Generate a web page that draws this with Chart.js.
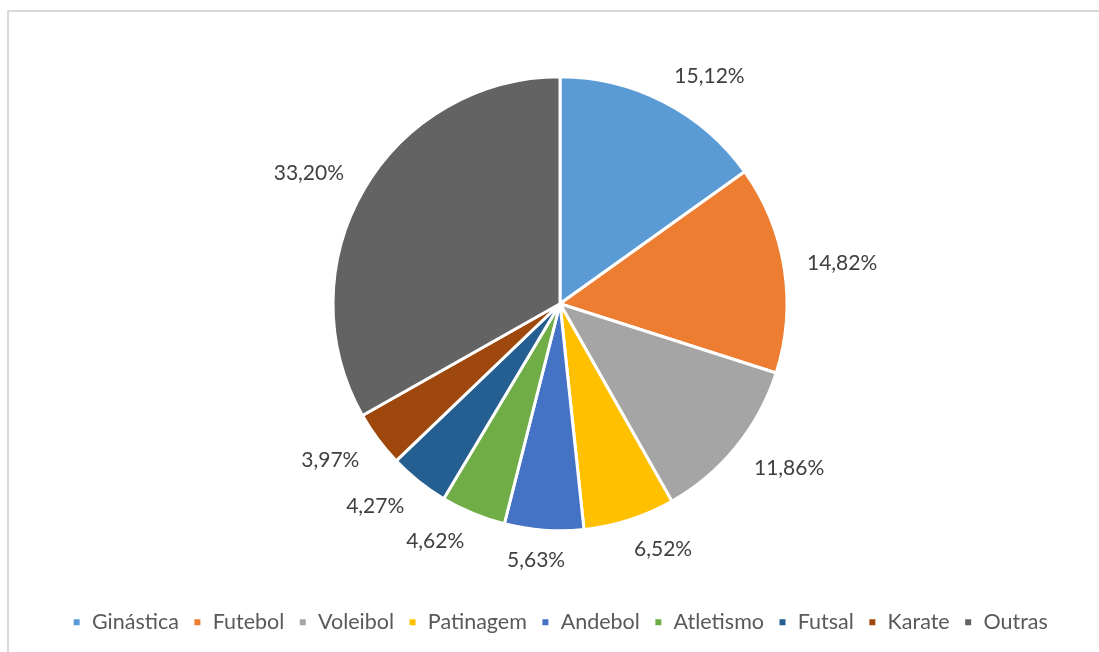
<!DOCTYPE html>
<html>
<head>
<meta charset="utf-8">
<script src="https://cdn.jsdelivr.net/npm/chart.js@4/dist/chart.umd.min.js"></script>
<style>
  html, body { margin:0; padding:0; background:#fff; }
  #wrap { position:relative; width:1099px; height:652px; }
  #frameTop { position:absolute; left:7px; top:10px; width:1092px; height:2px; background:#d9d9d9; }
  #frameLeft { position:absolute; left:7px; top:10px; width:2px; height:642px; background:#d9d9d9; }
  canvas { position:absolute; left:0; top:0; }
</style>
</head>
<body>
<div id="wrap">
  <canvas id="c" width="1099" height="652"></canvas>
  <div id="frameTop"></div>
  <div id="frameLeft"></div>
</div>
<script>
const categories = ["Ginástica", "Futebol", "Voleibol", "Patinagem", "Andebol", "Atletismo", "Futsal", "Karate", "Outras"];
const shares = [15.12, 14.82, 11.86, 6.52, 5.63, 4.62, 4.27, 3.97, 33.20];
const colors = ["#5B9BD5", "#ED7D31", "#A5A5A5", "#FFC000", "#4472C4", "#70AD47", "#255E91", "#9E480E", "#636363"];

const FONT = "Lato, 'Open Sans', sans-serif";

const pctLabels = {
  id: 'pctLabels',
  afterDatasetsDraw(chart) {
    const ctx = chart.ctx;
    const meta = chart.getDatasetMeta(0);
    const total = shares.reduce((a, b) => a + b, 0);
    ctx.save();
    ctx.font = "21px " + FONT;
    ctx.fillStyle = "#404040";
    ctx.textAlign = "center";
    ctx.textBaseline = "middle";
    meta.data.forEach((arc, i) => {
      const p = arc.getProps(['x', 'y', 'startAngle', 'endAngle', 'outerRadius'], true);
      const mid = (p.startAngle + p.endAngle) / 2;
      const ux = Math.cos(mid), uy = Math.sin(mid);
      const R = p.outerRadius + 23;
      const txt = (shares[i] / total * 100).toFixed(2).replace('.', ',') + '%';
      const w = ctx.measureText(txt).width;
      const h = 12;
      const fx = Math.max(-1, Math.min(1, ux * 3));
      const fy = Math.max(-1, Math.min(1, uy * 3));
      const cx = p.x + ux * R + fx * w / 2;
      const cy = p.y + uy * R + fy * h / 2 + 1;
      ctx.fillText(txt, cx, cy);
    });
    ctx.restore();
  }
};

new Chart(document.getElementById('c'), {
  type: 'pie',
  data: {
    labels: categories,
    datasets: [{
      data: shares,
      backgroundColor: colors,
      borderColor: '#ffffff',
      borderWidth: 3
    }]
  },
  options: {
    responsive: false,
    animation: false,
    radius: 227,
    layout: { padding: { top: 10, left: 21, right: 0, bottom: 9 } },
    plugins: {
      tooltip: { enabled: false },
      legend: {
        position: 'bottom',
        labels: {
          boxWidth: 9,
          boxHeight: 9,
          padding: 14,
          color: '#595959',
          font: { family: FONT, size: 21.5 }
        }
      }
    }
  },
  plugins: [pctLabels]
});
</script>
</body>
</html>
